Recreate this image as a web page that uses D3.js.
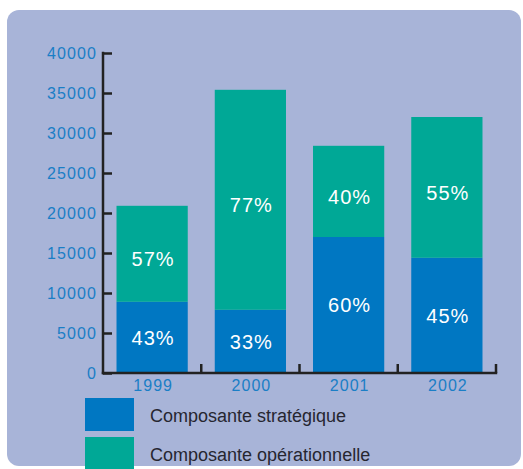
<!DOCTYPE html>
<html><head><meta charset="utf-8">
<script src="https://cdn.jsdelivr.net/npm/d3@7"></script>
<style>body{margin:0;background:#fff}svg{display:block}</style>
</head><body>
<script>
const years = ["1999", "2000", "2001", "2002"];
const strategique = [8900, 7900, 17000, 14400];
const operationnelle = [12000, 27500, 11400, 17600];
const pctStrategique = ["43%", "33%", "60%", "45%"];
const pctOperationnelle = ["57%", "77%", "40%", "55%"];
const yTicks = [0, 5000, 10000, 15000, 20000, 25000, 30000, 35000, 40000];
const seriesNames = ["Composante stratégique", "Composante opérationnelle"];

const W = 523, H = 469;
const colors = ["#0077c2", "#00a896"];
const svg = d3.select("body").append("svg").attr("width", W).attr("height", H);

svg.append("rect").attr("x", 7).attr("y", 10).attr("width", 514).attr("height", 456)
  .attr("rx", 12).attr("fill", "#a8b4d8");

const x0 = 103, x1 = 496, yTop = 53, yBot = 373;
const x = d3.scaleBand().domain(years).range([x0, x1]).padding(0);
const y = d3.scaleLinear().domain([0, 40000]).range([yBot, yTop]);
const barW = x.bandwidth() * 0.725;

const rows = years.map((yr, i) => ({year: yr, s: strategique[i], o: operationnelle[i], ps: pctStrategique[i], po: pctOperationnelle[i]}));
const stack = d3.stack().keys(["s", "o"])(rows);

stack.forEach((layer, li) => {
  svg.append("g").selectAll("rect").data(layer).join("rect")
    .attr("x", d => x(d.data.year) + (x.bandwidth() - barW) / 2)
    .attr("width", barW)
    .attr("y", d => y(d[1]))
    .attr("height", d => y(d[0]) - y(d[1]))
    .attr("fill", colors[li]);
  svg.append("g").selectAll("text").data(layer).join("text")
    .attr("x", d => x(d.data.year) + x.bandwidth() / 2 + 1)
    .attr("y", d => y((d[0] + d[1]) / 2) + (li === 1 ? 5 : 0))
    .attr("dy", "0.36em")
    .attr("text-anchor", "middle")
    .attr("fill", "#fff")
    .attr("font-family", "Liberation Sans, Arial, sans-serif")
    .attr("font-size", 20)
    .attr("letter-spacing", "1px")
    .text(d => li === 0 ? d.data.ps : d.data.po);
});

// Y axis
const yAxis = d3.axisRight(y).tickValues(yTicks).tickSize(9).tickFormat("");
const gy = svg.append("g").attr("transform", `translate(${x0},0)`).call(yAxis);
gy.select(".domain").remove();
gy.selectAll(".tick line").attr("stroke", "#222").attr("stroke-width", 2.5);
svg.append("line").attr("x1", x0).attr("x2", x0).attr("y1", yTop - 1.2).attr("y2", yBot + 1.2)
  .attr("stroke", "#222").attr("stroke-width", 2.5);
svg.append("g").selectAll("text").data(yTicks).join("text")
  .attr("x", 97).attr("y", d => y(d)).attr("dy", "0.36em")
  .attr("text-anchor", "end").attr("fill", "#1a7ec6")
  .attr("font-family", "Liberation Sans, Arial, sans-serif")
  .attr("font-size", 16).attr("letter-spacing", "1.1px")
  .text(d => d);

// X axis
svg.append("line").attr("x1", x0 - 1.2).attr("x2", x1 + 1.2).attr("y1", yBot).attr("y2", yBot)
  .attr("stroke", "#222").attr("stroke-width", 2.5);
svg.append("g").selectAll("line").data(years).join("line")
  .attr("x1", d => x(d) + x.bandwidth()).attr("x2", d => x(d) + x.bandwidth())
  .attr("y1", yBot).attr("y2", yBot - 9)
  .attr("stroke", "#222").attr("stroke-width", 2.5);
svg.append("g").selectAll("text").data(years).join("text")
  .attr("x", d => x(d) + x.bandwidth() / 2 + 1).attr("y", 391)
  .attr("text-anchor", "middle").attr("fill", "#1a7ec6")
  .attr("font-family", "Liberation Sans, Arial, sans-serif")
  .attr("font-size", 16).attr("letter-spacing", "1px")
  .text(d => d);

// Legend
const leg = svg.append("g").selectAll("g").data(seriesNames).join("g")
  .attr("transform", (d, i) => `translate(85,${398 + i * 39})`);
leg.append("rect").attr("width", 49).attr("height", 33).attr("fill", (d, i) => colors[i]);
leg.append("text").attr("x", 65).attr("y", 23.5)
  .attr("fill", "#262630").attr("font-family", "Liberation Sans, Arial, sans-serif")
  .attr("font-size", 18).text(d => d);
</script>
</body></html>
